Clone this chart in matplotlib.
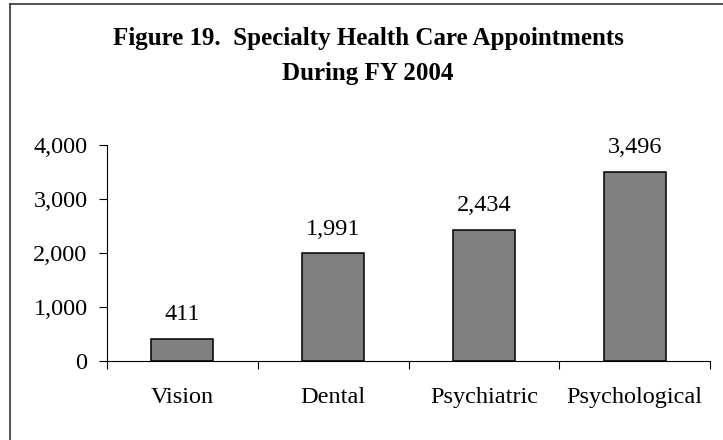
import matplotlib
matplotlib.use('Agg')
import matplotlib.pyplot as plt
from matplotlib.lines import Line2D

# data
categories = ['Vision', 'Dental', 'Psychiatric', 'Psychological']
appointments = [411, 1991, 2434, 3496]
y_ticks = [0, 1000, 2000, 3000, 4000]

plt.rcParams['font.family'] = ['Liberation Serif', 'DejaVu Serif']

fig = plt.figure(figsize=(7.23, 4.40), dpi=100)
W, H = 723, 440
ax = fig.add_axes([107 / W, 1 - 361 / H, (710 - 107) / W, (361 - 145) / H])

x = range(len(categories))
ax.bar(x, appointments, width=0.41, color='#808080', edgecolor='black', linewidth=1.1)

for xi, v in zip(x, appointments):
    ax.annotate(f'{v:,}', (xi, v), xytext=(0, 10), textcoords='offset points',
                ha='center', va='bottom', fontsize=17.5)

ax.set_xlim(-0.5, len(categories) - 0.5)
ax.set_ylim(0, 4000)
ax.set_yticks(y_ticks)
ax.set_yticklabels([f'{t:,}' for t in y_ticks])
ax.tick_params(axis='y', direction='out', length=6, width=0.8, pad=8, labelsize=17.5)

# labels at category centres, tick marks at the boundaries
ax.set_xticks(list(x))
ax.set_xticklabels(categories)
ax.set_xticks([i - 0.5 for i in range(len(categories) + 1)], minor=True)
ax.tick_params(axis='x', which='major', length=0, pad=19, labelsize=17.5)
ax.tick_params(axis='x', which='minor', direction='out', length=6, width=0.8)

for s in ['top', 'right']:
    ax.spines[s].set_visible(False)
for s in ['left', 'bottom']:
    ax.spines[s].set_linewidth(0.8)

# title
fig.text(0.509, 1 - 45 / H, 'Figure 19.  Specialty Health Care Appointments',
         ha='center', va='baseline', fontsize=18, fontweight='bold')
fig.text(0.509, 1 - 80 / H, 'During FY 2004',
         ha='center', va='baseline', fontsize=18, fontweight='bold')

# chart border (only top and left edges are visible in the crop)
fig.add_artist(Line2D([9.5 / W, 1], [1 - 4.5 / H, 1 - 4.5 / H], transform=fig.transFigure,
                      color='#333333', linewidth=1.2))
fig.add_artist(Line2D([9.5 / W, 9.5 / W], [0, 1 - 4.5 / H], transform=fig.transFigure,
                      color='#333333', linewidth=1.2))

fig.savefig('out.png', dpi=100)
